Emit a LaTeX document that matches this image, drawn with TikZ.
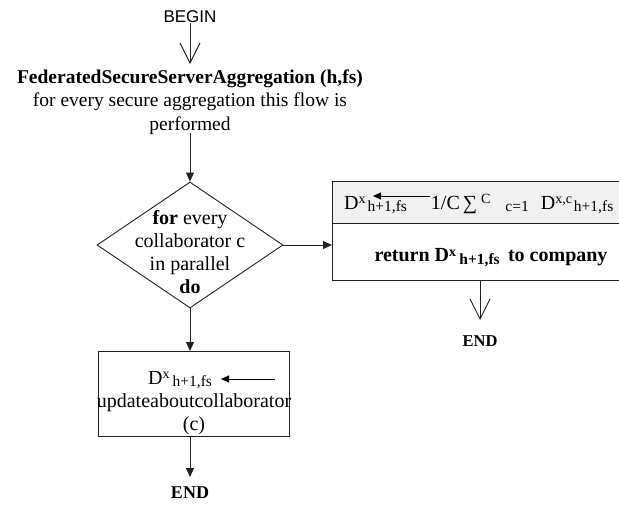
\documentclass[tikz,border=0pt]{standalone}
\usepackage{fontspec}
\setmainfont{Liberation Serif}
\setsansfont{Liberation Sans}
\usetikzlibrary{shapes.geometric,arrows.meta}

% raised and lowered indices in running text
\newcommand\upidx[1]{\raisebox{0.55ex}{\fontsize{14}{14}\selectfont #1}}
\newcommand\lowidx[1]{\raisebox{-0.3ex}{\fontsize{15.5}{15.5}\selectfont #1}}

\definecolor{linecol}{HTML}{222222}
\definecolor{headfill}{HTML}{F1F1F1}

\tikzset{
  txt/.style={font=\fontsize{20}{23}\selectfont, inner sep=0pt, align=center, text=black},
  flow/.style={draw=linecol, line width=0.9pt, -{Triangle[length=9pt,width=8pt]}},
  openflow/.style={draw=linecol, line width=0.9pt, -{Straight Barb[length=20pt,width=20pt,line width=0.9pt]}},
  inline/.style={draw=black, line width=0.9pt, -{Triangle[length=8pt,width=7pt]}},
  decision/.style={diamond, draw=linecol, line width=0.9pt, inner sep=0pt,
    minimum width=186pt, minimum height=126pt, aspect=1.48},
  boxstyle/.style={draw=linecol, line width=0.9pt, inner sep=0pt, anchor=north west},
}

\begin{document}
\begin{tikzpicture}[x=1pt, y=-1pt]
\useasboundingbox (0,0) rectangle (619,504);
\clip (0,0) rectangle (619,504);

% start
\node[txt, font=\sffamily\fontsize{17}{19}\selectfont] (begin) at (190,17) {BEGIN};
\node[txt, font=\fontsize{19.5}{23.5}\selectfont] (title) at (190,102)
  {\textbf{FederatedSecureServerAggregation (h,fs)}\\
  for every secure aggregation this flow is\\performed};
\draw[openflow] (begin.south) -- (190,64);

% decision
\node[decision] (dec) at (190,245) {};
\node[txt] (dectext) at (190,252)
  {\textbf{for} every\\collaborator c\\in parallel\\\textbf{do}};
\draw[flow] (190,133) -- (dec.north);

% aggregation box on the right
\node[boxstyle, fill=headfill, minimum width=310pt, minimum height=42pt] (head) at (332,181) {};
\node[boxstyle, minimum width=310pt, minimum height=57pt] (ret) at (332,223) {};
\node[txt, anchor=base west] (aggtext) at (344,209)
  {D\upidx{x}\hspace{2pt}\lowidx{h+1,fs}\hspace{24pt}1/C\hspace{3pt}∑\hspace{4pt}\upidx{C}\hspace{15pt}\lowidx{c=1}\hspace{12pt}D\upidx{x,c}\hspace{2pt}\lowidx{h+1,fs}};
\coordinate (aggfrom) at (430,196);
\coordinate (aggto) at (373,196);
\draw[inline] (aggfrom) -- (aggto);
\node[txt, font=\bfseries\fontsize{20}{23}\selectfont] (rettext) at (491,258)
  {return D\upidx{x}\,\lowidx{h+1,fs}\, to company};
\draw[flow] (dec.east) -- (ret.west |- dec.east);

\node[txt, font=\bfseries\fontsize{16.5}{19}\selectfont] (end1) at (480,341) {END};
\draw[openflow] (480,280) -- (480,320);

% update box below
\node[boxstyle, minimum width=191pt, minimum height=85pt] (upd) at (98,351) {};
\node[txt, anchor=base west] (updtop) at (148,384)
  {D\upidx{x}\hspace{3pt}\lowidx{h+1,fs}};
\node[txt] (updtext) at (194,414)
  {updateaboutcollaborator\\(c)};
\coordinate (updfrom) at (275,379);
\coordinate (updto) at (221,379);
\draw[inline] (updfrom) -- (updto);
\draw[flow] (dec.south) -- (upd.north -| dec.south);

\node[txt, font=\bfseries\fontsize{18}{20}\selectfont] (end2) at (190,493) {END};
\draw[flow] (upd.south -| dec.south) -- (190,477);
\end{tikzpicture}
\end{document}
